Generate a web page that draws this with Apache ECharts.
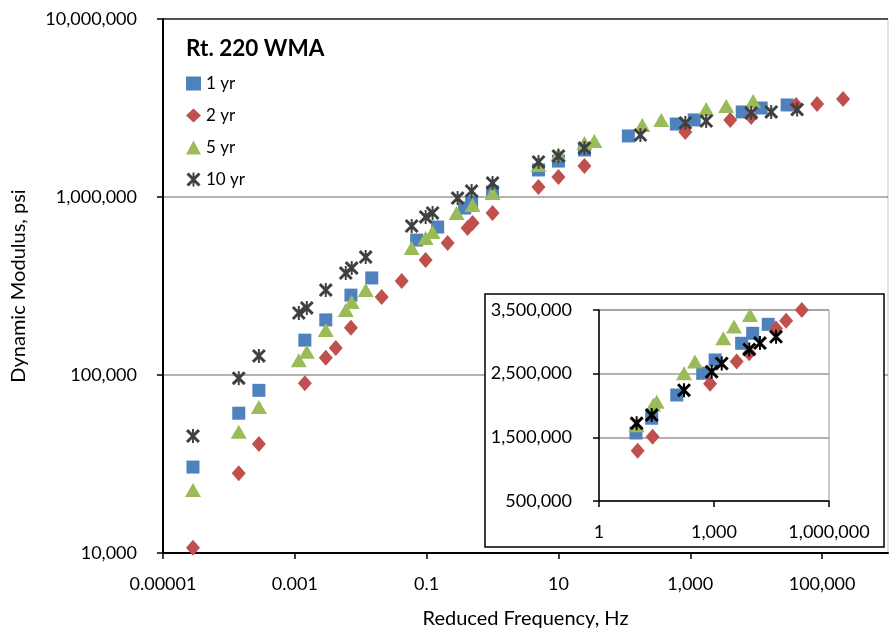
<!DOCTYPE html>
<html>
<head>
<meta charset="utf-8">
<script src="https://cdn.jsdelivr.net/npm/echarts@6/dist/echarts.min.js"></script>
<style>
  html, body { margin: 0; padding: 0; background: #fff; }
  #main { width: 890px; height: 634px; }
</style>
</head>
<body>
<div id="main"></div>
<script>
// main plot: [reduced frequency Hz, dynamic modulus psi]
var yr1 = [[2.85e-5,30400],[1.41e-4,61000],[2.85e-4,82000],[1.42e-3,157000],[2.95e-3,204000],
  [7.1e-3,281000],[0.0147,351000],[0.0705,573000],[0.147,678000],[0.377,867000],[0.481,937000],
  [1.0,1067000],[4.98,1419000],[10,1592000],[24.8,1837000],[115,2203000],[614,2570000],
  [1150,2710000],[6140,3005000],[11900,3162000],[29500,3289000]];
var yr2 = [[2.85e-5,10700],[1.41e-4,28100],[2.85e-4,41000],[1.42e-3,90000],[2.95e-3,125000],
  [4.18e-3,142000],[7.1e-3,184000],[0.0208,274000],[0.0418,337000],[0.0966,443000],[0.208,552000],
  [0.418,670000],[0.498,714000],[1.0,813000],[4.98,1137000],[10,1294000],[24.8,1493000],
  [840,2316000],[4040,2710000],[8400,2814000],[40400,3289000],[84000,3326000],[208000,3557000]];
var yr5 = [[2.85e-5,22600],[1.41e-4,48000],[2.85e-4,66000],[1.15e-3,121000],[1.52e-3,135000],
  [2.95e-3,179000],[5.93e-3,232000],[7.3e-3,257000],[0.0119,300000],[0.0593,517000],[0.0966,589000],
  [0.123,636000],[0.285,813000],[0.498,902000],[1.0,1052000],[4.98,1514000],[10,1740000],
  [24.8,2009000],[35,2064000],[187,2535000],[363,2710000],[1745,3120000],[3510,3243000],[9000,3459000]];
var yr10 = [[2.85e-5,45400],[1.41e-4,96000],[2.85e-4,128000],[1.15e-3,223000],[1.52e-3,238000],
  [2.95e-3,300000],[5.93e-3,374000],[7.3e-3,399000],[0.0119,460000],[0.0593,687000],[0.0966,773000],
  [0.123,813000],[0.295,986000],[0.481,1081000],[1.0,1200000],[4.98,1574000],[10,1698000],
  [24.8,1884000],[175,2230000],[840,2606000],[1745,2673000],[8400,2966000],[16900,3005000],[41800,3100000]];

// inset plot
var ins1 = [[9.2,1568000],[23.7,1800000],[107,2165000],[507,2506000],[1070,2715000],
  [5270,2977000],[10200,3134000],[26000,3275000]];
var ins2 = [[10.2,1290000],[25,1510000],[790,2340000],[3900,2690000],[8300,2820000],
  [41500,3210000],[76000,3330000],[195000,3500000]];
var ins5 = [[9.6,1690000],[26,2010000],[32,2060000],[165,2506000],[318,2690000],
  [1750,3055000],[3330,3240000],[8700,3420000]];
var ins10 = [[9.6,1720000],[23.7,1850000],[165,2240000],[870,2530000],[1590,2660000],
  [8300,2880000],[15800,2980000],[41500,3080000]];

var seriesNames = ['1 yr', '2 yr', '5 yr', '10 yr'];
var colors = ['#4F81BD', '#C0504D', '#9BBB59', '#404040'];

var FONT = 'Lato';
var starPath = 'path://M0,3 L3,0 L20,17 L17,20 Z M17,0 L20,3 L3,20 L0,17 Z M8.6,0 L11.4,0 L11.4,20 L8.6,20 Z';
var symbols = ['rect', 'diamond', 'triangle', starPath];
var sizes = [13, [14, 16], [16, 14], 14];

function fmtNum(v){
  var e = Math.round(Math.log10(v));
  if (e < 0) return '0.' + '0'.repeat(-e - 1) + '1';
  return Math.pow(10, e).toLocaleString('en-US');
}

var chart = echarts.init(document.getElementById('main'), null, {renderer: 'canvas'});

var mainData = [yr1, yr2, yr5, yr10];
var insetData = [ins1, ins2, ins5, ins10];
var series = [];
for (var i = 0; i < 4; i++) {
  series.push({
    name: seriesNames[i], type: 'scatter', xAxisIndex: 0, yAxisIndex: 0,
    data: mainData[i], symbol: symbols[i], symbolSize: sizes[i],
    itemStyle: {color: colors[i], opacity: 1}, z: 2
  });
}
for (var j = 0; j < 4; j++) {
  series.push({
    name: 'inset ' + seriesNames[j], type: 'scatter', xAxisIndex: 1, yAxisIndex: 1,
    data: insetData[j], symbol: symbols[j], symbolSize: sizes[j],
    itemStyle: {color: j === 3 ? '#000' : colors[j], opacity: 1}, z: 6
  });
}

var option = {
  backgroundColor: '#fff',
  animation: false,
  title: {
    text: 'Rt. 220 WMA', left: 181, top: 32,
    textStyle: {fontFamily: FONT, fontSize: 22.5, fontWeight: 'bold', color: '#000'}
  },
  legend: {
    data: seriesNames, orient: 'vertical', left: 181, top: 70,
    itemWidth: 15, itemHeight: 14, itemGap: 15,
    textStyle: {fontFamily: FONT, fontSize: 17, color: '#000'}
  },
  graphic: [{
    type: 'rect', z: 4,
    shape: {x: 485, y: 294, width: 399, height: 253},
    style: {fill: '#fff', stroke: '#000', lineWidth: 1.5}
  }],
  grid: [
    {left: 163, top: 19, right: 2, bottom: 81, show: true, borderColor: '#c8c8c8', borderWidth: 1},
    {left: 599, top: 310, right: 61, bottom: 133, show: true, borderColor: '#999', borderWidth: 1, z: 5}
  ],
  xAxis: [{
    type: 'log', gridIndex: 0, min: 1e-5, max: 1e6, interval: 2,
    name: 'Reduced Frequency, Hz', nameLocation: 'middle', nameGap: 56,
    nameTextStyle: {fontFamily: FONT, fontSize: 20, color: '#000'},
    axisLine: {lineStyle: {color: '#000', width: 2}},
    axisTick: {length: 6, lineStyle: {color: '#000', width: 1.5}},
    axisLabel: {fontFamily: FONT, fontSize: 18, color: '#000', margin: 22, showMaxLabel: false,
      formatter: function(v){ return fmtNum(v); }},
    splitLine: {show: false}
  }, {
    type: 'log', gridIndex: 1, min: 1, max: 1e6, interval: 3, z: 6,
    axisLine: {lineStyle: {color: '#000', width: 1.5}},
    axisTick: {length: 6, lineStyle: {color: '#000', width: 1.5}},
    axisLabel: {fontFamily: FONT, fontSize: 18, color: '#000', margin: 22,
      formatter: function(v){ return fmtNum(v); }},
    splitLine: {show: false}
  }],
  yAxis: [{
    type: 'log', gridIndex: 0, min: 1e4, max: 1e7,
    name: 'Dynamic Modulus, psi', nameLocation: 'middle', nameGap: 134,
    nameTextStyle: {fontFamily: FONT, fontSize: 20, color: '#000'},
    axisLine: {lineStyle: {color: '#000', width: 2}},
    axisTick: {length: 6, lineStyle: {color: '#000', width: 1.5}},
    axisLabel: {fontFamily: FONT, fontSize: 18, color: '#000', margin: 26,
      formatter: function(v){ return fmtNum(v); }},
    splitLine: {show: true, lineStyle: {color: ['#999', '#999', '#999', '#222'], width: 1.5}}
  }, {
    type: 'value', gridIndex: 1, min: 500000, max: 3500000, interval: 1000000, z: 6,
    axisLine: {show: true, lineStyle: {color: '#000', width: 1.5}},
    axisTick: {show: true, length: 6, lineStyle: {color: '#000', width: 1.5}},
    axisLabel: {fontFamily: FONT, fontSize: 18, color: '#000', margin: 27,
      formatter: function(v){ return v.toLocaleString('en-US'); }},
    splitLine: {show: true, lineStyle: {color: '#999', width: 1.5}}
  }],
  series: series
};
chart.setOption(option);
</script>
</body>
</html>
